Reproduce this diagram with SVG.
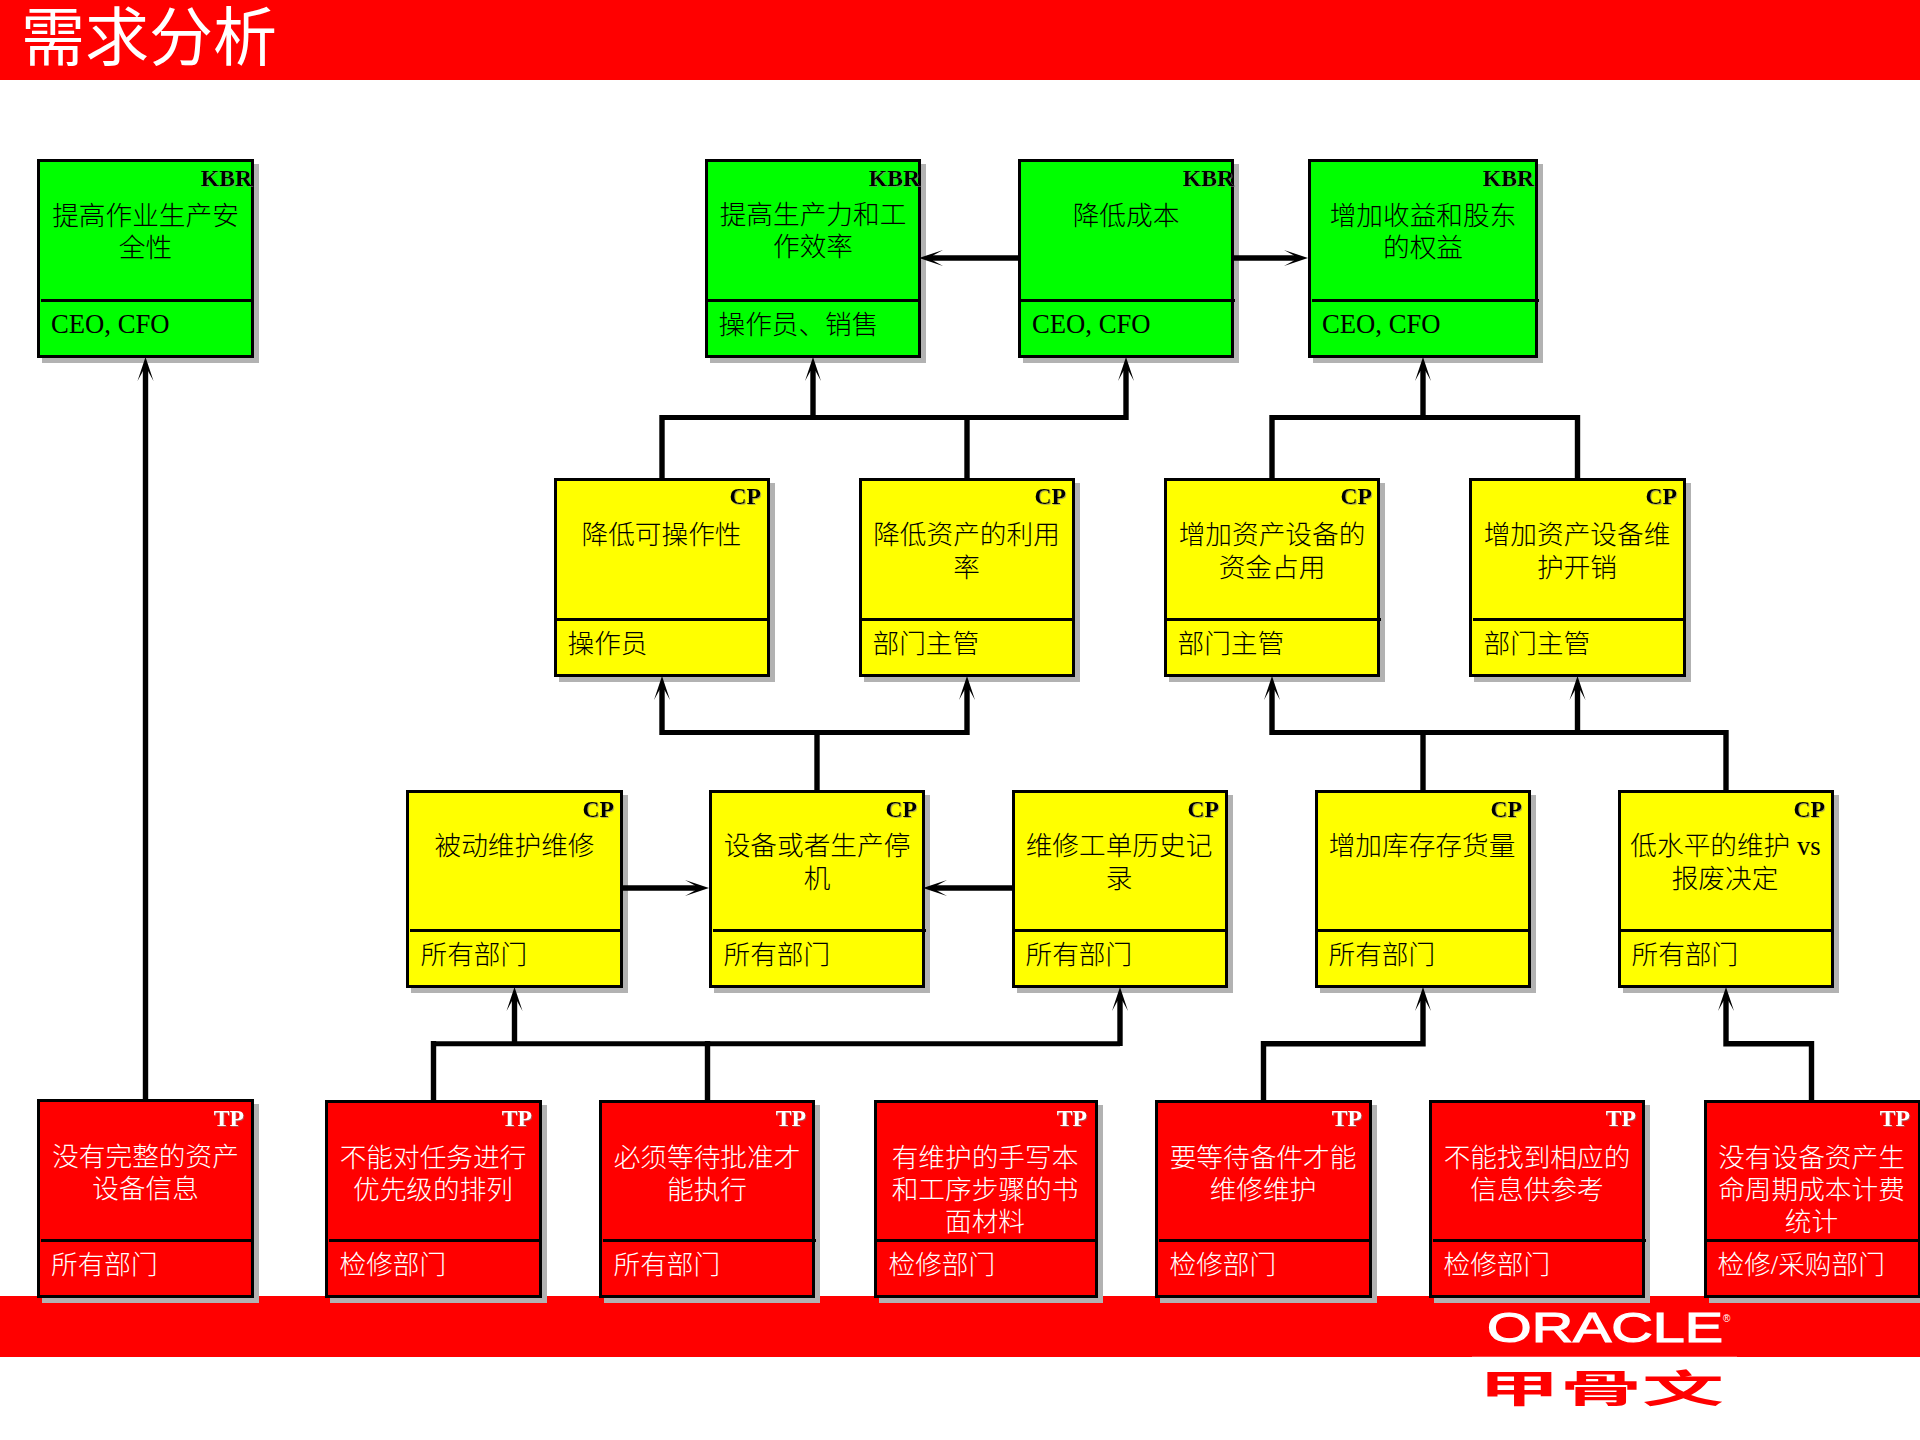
<svg xmlns="http://www.w3.org/2000/svg" width="1920" height="1440" viewBox="0 0 1920 1440">
<style>
text{font-family:"Liberation Serif","Noto Sans CJK SC",serif}
.band{fill:#ff0000}
.shadow{fill:#b2b2b2}
.box{stroke:#000;stroke-width:3}
.div{stroke:#000;stroke-width:3}
.green .box{fill:#00ff00}.yellow .box{fill:#ffff00}.red .box{fill:#ff0000}
.green text,.yellow text{fill:#000}.red text{fill:#fff}
.badge{font-size:23.6px;font-weight:bold;text-anchor:end;filter:url(#glow)}
.title{font-size:26.67px;text-anchor:middle;font-weight:300}
.owner{font-size:26.67px;font-weight:300}
.wire{fill:none;stroke:#000;stroke-width:5.4}
.bus{fill:none;stroke:#000;stroke-width:5}
</style>
<defs>
<filter id="glow" x="-10%" y="-10%" width="130%" height="130%"><feDropShadow dx="1" dy="1" stdDeviation="0.5" flood-color="#808080" flood-opacity="0.6"/></filter>
<marker id="arrow" markerUnits="userSpaceOnUse" markerWidth="24" markerHeight="16" viewBox="0 0 24 16" refX="10" refY="8" orient="auto" overflow="visible"><path d="M24,8 L0,0 L10,5.5 L10,10.5 L0,16 Z" fill="#000"/></marker>
</defs>
<rect width="1920" height="1440" fill="#fff"/>
<rect class="band" x="0" y="0" width="1920" height="80"/>
<rect class="band" x="0" y="1296" width="1920" height="61"/>
<rect x="1472" y="1356" width="265" height="1" fill="#ff4040"/>
<text x="21" y="60" font-size="64" fill="#fff">需求分析</text>
<g id="logo">
<text x="1487" y="1342" font-size="43" fill="#fff" stroke="#fff" stroke-width="1.2" style="font-family:'Liberation Sans',sans-serif" textLength="236" lengthAdjust="spacingAndGlyphs">ORACLE</text>
<text x="1723" y="1322" font-size="10" fill="#fff" style="font-family:'Liberation Sans',sans-serif">®</text>
<text x="1478" y="1402" font-size="38" font-weight="bold" fill="#ff0000" style="font-family:'Noto Sans CJK SC',sans-serif" textLength="246" lengthAdjust="spacingAndGlyphs">甲骨文</text>
</g>

<g id="nodes">
<g id="kbr1" class="node green"><rect class="shadow" x="42" y="164" width="217" height="199"/><rect class="box" x="38.5" y="160.5" width="214" height="196"/><line class="div" x1="41" x2="251" y1="300.5" y2="300.5"/><text class="badge" x="252" y="186">KBR</text><text class="title" x="145.5" y="225">提高作业生产安</text><text class="title" x="145.5" y="257">全性</text><text class="owner" x="51" y="333">CEO, CFO</text></g>
<g id="kbr2" class="node green"><rect class="shadow" x="710" y="164" width="216" height="199"/><rect class="box" x="706.5" y="160.5" width="213" height="196"/><line class="div" x1="708" x2="919" y1="300.5" y2="300.5"/><text class="badge" x="920" y="186">KBR</text><text class="title" x="813" y="224">提高生产力和工</text><text class="title" x="813" y="256">作效率</text><text class="owner" x="718.5" y="333.5">操作员、销售</text></g>
<g id="kbr3" class="node green"><rect class="shadow" x="1023" y="164" width="216" height="199"/><rect class="box" x="1019.5" y="160.5" width="213" height="196"/><line class="div" x1="1021" x2="1235" y1="300.5" y2="300.5"/><text class="badge" x="1234" y="186">KBR</text><text class="title" x="1126" y="225">降低成本</text><text class="owner" x="1032" y="333">CEO, CFO</text></g>
<g id="kbr4" class="node green"><rect class="shadow" x="1313" y="164" width="230" height="199"/><rect class="box" x="1309.5" y="160.5" width="227" height="196"/><line class="div" x1="1312" x2="1539" y1="300.5" y2="300.5"/><text class="badge" x="1534" y="186">KBR</text><text class="title" x="1423" y="225">增加收益和股东</text><text class="title" x="1423" y="257">的权益</text><text class="owner" x="1322" y="333">CEO, CFO</text></g>

<g id="cp1" class="node yellow"><rect class="shadow" x="559" y="483" width="216" height="199"/><rect class="box" x="555.5" y="479.5" width="213" height="196"/><line class="div" x1="557" x2="768" y1="619.5" y2="619.5"/><text class="badge" x="761" y="504">CP</text><text class="title" x="661.5" y="544">降低可操作性</text><text class="owner" x="567.5" y="652.5">操作员</text></g>
<g id="cp2" class="node yellow"><rect class="shadow" x="864" y="483" width="216" height="199"/><rect class="box" x="860.5" y="479.5" width="213" height="196"/><line class="div" x1="862" x2="1073" y1="619.5" y2="619.5"/><text class="badge" x="1066" y="504">CP</text><text class="title" x="966.5" y="544">降低资产的利用</text><text class="title" x="966.5" y="576.5">率</text><text class="owner" x="872.5" y="652.5">部门主管</text></g>
<g id="cp3" class="node yellow"><rect class="shadow" x="1169" y="483" width="216" height="199"/><rect class="box" x="1165.5" y="479.5" width="213" height="196"/><line class="div" x1="1167" x2="1381" y1="619.5" y2="619.5"/><text class="badge" x="1372" y="504">CP</text><text class="title" x="1272" y="544">增加资产设备的</text><text class="title" x="1272" y="576.5">资金占用</text><text class="owner" x="1177.5" y="652.5">部门主管</text></g>
<g id="cp4" class="node yellow"><rect class="shadow" x="1474" y="483" width="217" height="199"/><rect class="box" x="1470.5" y="479.5" width="214" height="196"/><line class="div" x1="1473" x2="1684" y1="619.5" y2="619.5"/><text class="badge" x="1677" y="504">CP</text><text class="title" x="1577" y="544">增加资产设备维</text><text class="title" x="1577" y="576.5">护开销</text><text class="owner" x="1483.5" y="652.5">部门主管</text></g>

<g id="cp5" class="node yellow"><rect class="shadow" x="411" y="795" width="217" height="198"/><rect class="box" x="407.5" y="791.5" width="214" height="195"/><line class="div" x1="410" x2="621" y1="930.5" y2="930.5"/><text class="badge" x="614" y="817">CP</text><text class="title" x="514.5" y="855">被动维护维修</text><text class="owner" x="420.5" y="964">所有部门</text></g>
<g id="cp6" class="node yellow"><rect class="shadow" x="714" y="795" width="216" height="198"/><rect class="box" x="710.5" y="791.5" width="213" height="195"/><line class="div" x1="713" x2="926" y1="930.5" y2="930.5"/><text class="badge" x="917" y="817">CP</text><text class="title" x="817" y="855">设备或者生产停</text><text class="title" x="817" y="887.5">机</text><text class="owner" x="723.5" y="964">所有部门</text></g>
<g id="cp7" class="node yellow"><rect class="shadow" x="1017" y="795" width="216" height="198"/><rect class="box" x="1013.5" y="791.5" width="213" height="195"/><line class="div" x1="1015" x2="1226" y1="930.5" y2="930.5"/><text class="badge" x="1219" y="817">CP</text><text class="title" x="1119" y="855">维修工单历史记</text><text class="title" x="1119" y="887.5">录</text><text class="owner" x="1025.5" y="964">所有部门</text></g>
<g id="cp8" class="node yellow"><rect class="shadow" x="1320" y="795" width="216" height="198"/><rect class="box" x="1316.5" y="791.5" width="213" height="195"/><line class="div" x1="1318" x2="1529" y1="930.5" y2="930.5"/><text class="badge" x="1522" y="817">CP</text><text class="title" x="1422" y="855">增加库存存货量</text><text class="owner" x="1328.5" y="964">所有部门</text></g>
<g id="cp9" class="node yellow"><rect class="shadow" x="1623" y="795" width="216" height="198"/><rect class="box" x="1619.5" y="791.5" width="213" height="195"/><line class="div" x1="1621" x2="1832" y1="930.5" y2="930.5"/><text class="badge" x="1825" y="817">CP</text><text class="title" x="1725.5" y="855">低水平的维护 vs</text><text class="title" x="1725" y="887.5">报废决定</text><text class="owner" x="1631.5" y="964">所有部门</text></g>

<g id="tp1" class="node red"><rect class="shadow" x="42" y="1104" width="217" height="199"/><rect class="box" x="38.5" y="1100.5" width="214" height="196"/><line class="div" x1="41" x2="251" y1="1240.5" y2="1240.5"/><text class="badge" x="244" y="1126">TP</text><text class="title" x="145.5" y="1165.5">没有完整的资产</text><text class="title" x="145.5" y="1198">设备信息</text><text class="owner" x="51" y="1274">所有部门</text></g>
<g id="tp2" class="node red"><rect class="shadow" x="330" y="1105" width="217" height="198"/><rect class="box" x="326.5" y="1101.5" width="214" height="195"/><line class="div" x1="329" x2="539" y1="1240.5" y2="1240.5"/><text class="badge" x="532" y="1126">TP</text><text class="title" x="433" y="1166.5">不能对任务进行</text><text class="title" x="433" y="1198.5">优先级的排列</text><text class="owner" x="339.5" y="1274">检修部门</text></g>
<g id="tp3" class="node red"><rect class="shadow" x="604" y="1105" width="216" height="198"/><rect class="box" x="600.5" y="1101.5" width="213" height="195"/><line class="div" x1="603" x2="816" y1="1240.5" y2="1240.5"/><text class="badge" x="806" y="1126">TP</text><text class="title" x="707" y="1166.5">必须等待批准才</text><text class="title" x="707" y="1198.5">能执行</text><text class="owner" x="613.5" y="1274">所有部门</text></g>
<g id="tp4" class="node red"><rect class="shadow" x="879" y="1105" width="224" height="198"/><rect class="box" x="875.5" y="1101.5" width="221" height="195"/><line class="div" x1="877" x2="1096" y1="1240.5" y2="1240.5"/><text class="badge" x="1087" y="1126">TP</text><text class="title" x="985" y="1166.5">有维护的手写本</text><text class="title" x="985" y="1198.5">和工序步骤的书</text><text class="title" x="985" y="1230.5">面材料</text><text class="owner" x="888.5" y="1274">检修部门</text></g>
<g id="tp5" class="node red"><rect class="shadow" x="1160" y="1105" width="217" height="198"/><rect class="box" x="1156.5" y="1101.5" width="214" height="195"/><line class="div" x1="1159" x2="1369" y1="1240.5" y2="1240.5"/><text class="badge" x="1362" y="1126">TP</text><text class="title" x="1263" y="1166.5">要等待备件才能</text><text class="title" x="1263" y="1198.5">维修维护</text><text class="owner" x="1169.5" y="1274">检修部门</text></g>
<g id="tp6" class="node red"><rect class="shadow" x="1434" y="1105" width="216" height="198"/><rect class="box" x="1430.5" y="1101.5" width="213" height="195"/><line class="div" x1="1433" x2="1646" y1="1240.5" y2="1240.5"/><text class="badge" x="1636" y="1126">TP</text><text class="title" x="1537" y="1166.5">不能找到相应的</text><text class="title" x="1537" y="1198.5">信息供参考</text><text class="owner" x="1443.5" y="1274">检修部门</text></g>
<g id="tp7" class="node red"><rect class="shadow" x="1709" y="1105" width="216" height="198"/><rect class="box" x="1705.5" y="1101.5" width="214" height="195"/><line class="div" x1="1707" x2="1918" y1="1240.5" y2="1240.5"/><text class="badge" x="1910" y="1126">TP</text><text class="title" x="1811.5" y="1166.5">没有设备资产生</text><text class="title" x="1811.5" y="1198.5">命周期成本计费</text><text class="title" x="1811.5" y="1230.5">统计</text><text class="owner" x="1717.5" y="1274">检修/采购部门</text></g>
</g>

<g id="connectors">
<path class="wire" d="M145.5,1100 V371" marker-end="url(#arrow)"/>
<path class="wire" d="M1018,258 H933" marker-end="url(#arrow)"/>
<path class="wire" d="M1234,258 H1294" marker-end="url(#arrow)"/>
<path class="bus" d="M662,417.5 H1126"/>
<path class="wire" d="M662,478 V415"/>
<path class="wire" d="M967,478 V415"/>
<path class="wire" d="M813,420 V371" marker-end="url(#arrow)"/>
<path class="wire" d="M1126,420 V371" marker-end="url(#arrow)"/>
<path class="bus" d="M1272,417.5 H1577.5"/>
<path class="wire" d="M1272,478 V415"/>
<path class="wire" d="M1577.5,478 V415"/>
<path class="wire" d="M1423,420 V371" marker-end="url(#arrow)"/>
<path class="bus" d="M662,732.5 H967"/>
<path class="wire" d="M817,790 V730"/>
<path class="wire" d="M662,735 V690" marker-end="url(#arrow)"/>
<path class="wire" d="M967,735 V690" marker-end="url(#arrow)"/>
<path class="bus" d="M1272,732.5 H1726"/>
<path class="wire" d="M1423,790 V730"/>
<path class="wire" d="M1726,790 V730"/>
<path class="wire" d="M1272,735 V690" marker-end="url(#arrow)"/>
<path class="wire" d="M1577.5,735 V690" marker-end="url(#arrow)"/>
<path class="wire" d="M623,888 H695" marker-end="url(#arrow)"/>
<path class="wire" d="M1012,888 H937" marker-end="url(#arrow)"/>
<path class="bus" d="M433.5,1043.7 H1120"/>
<path class="wire" d="M433.5,1101 V1041"/>
<path class="wire" d="M707.5,1101 V1041"/>
<path class="wire" d="M514.5,1046 V1001" marker-end="url(#arrow)"/>
<path class="wire" d="M1120,1046 V1001" marker-end="url(#arrow)"/>
<path class="wire" d="M1263.5,1101 V1043.7 H1423 V1001" marker-end="url(#arrow)"/>
<path class="wire" d="M1811.5,1101 V1043.7 H1726 V1001" marker-end="url(#arrow)"/>
</g>
</svg>
